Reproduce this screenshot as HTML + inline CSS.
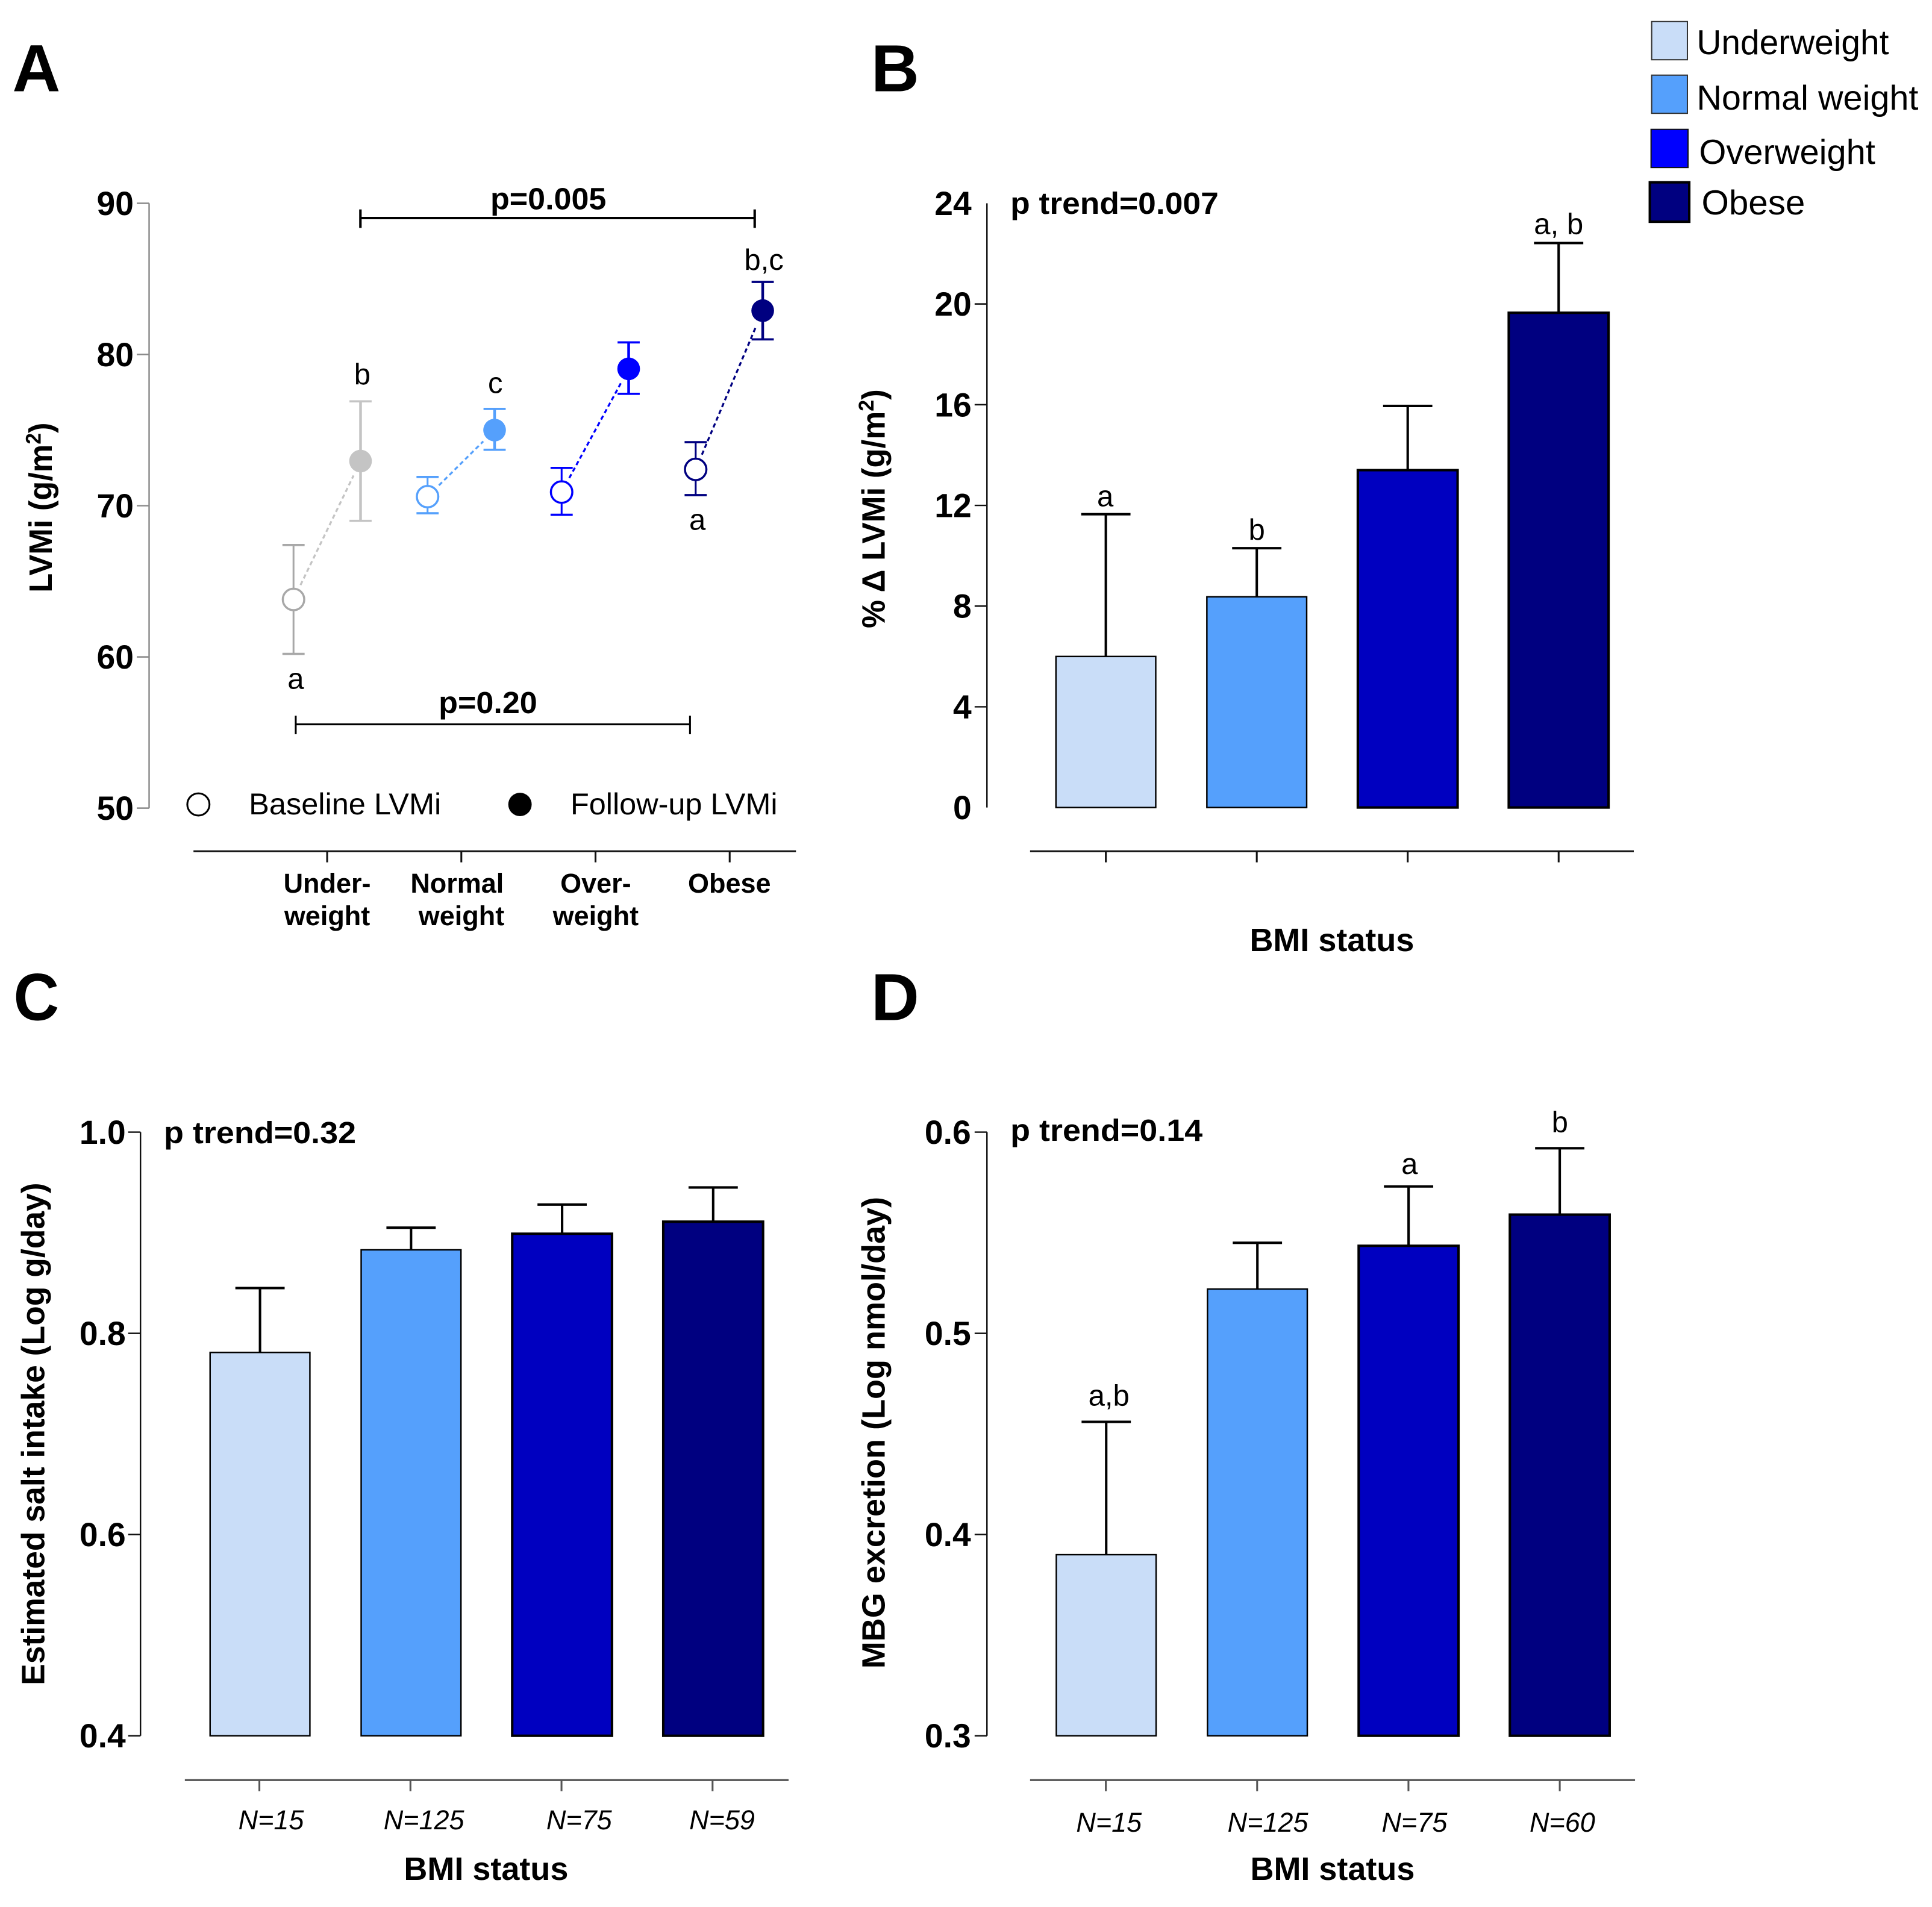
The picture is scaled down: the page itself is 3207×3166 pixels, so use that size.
<!DOCTYPE html>
<html lang="en">
<head>
<meta charset="utf-8">
<title>LVMi by BMI status</title>
<style>
html,body{margin:0;padding:0;background:#fff}
svg{display:block}
text{font-family:"Liberation Sans",sans-serif;fill:#000}
.bold{font-weight:700}
.letter{font-size:54px;font-weight:700}
.tick{font-size:27px;font-weight:700;text-anchor:end}
.ytitle{font-size:26.4px;font-weight:700;text-anchor:middle}
.ptxt{font-size:25px;font-weight:700}
.cat{font-size:22px;font-weight:700;text-anchor:middle}
.sig{font-size:24px;text-anchor:middle}
.n{font-size:22px;font-style:italic;text-anchor:middle}
.leg{font-size:28px}
.leg2{font-size:24.4px}
</style>
</head>
<body>
<svg id="fig" xmlns="http://www.w3.org/2000/svg" width="3207" height="3166" viewBox="0 0 1568 1548">
<rect x="0" y="0" width="1568" height="1548" fill="#fff"/>

<text class="letter" x="10" y="74">A</text>
<text class="letter" x="707" y="74">B</text>
<text class="letter" x="11" y="828" textLength="37" lengthAdjust="spacingAndGlyphs">C</text>
<text class="letter" x="707" y="828">D</text>

<g>
<rect x="1340.5" y="17.5" width="29" height="31" fill="#c9ddf8" stroke="#333" stroke-width="1"/>
<rect x="1340.5" y="61" width="29" height="31" fill="#55a0fc" stroke="#333" stroke-width="1"/>
<rect x="1340" y="105" width="30" height="31" fill="#0000ff" stroke="#111" stroke-width="1"/>
<rect x="1339" y="148" width="32" height="32" fill="#000080" stroke="#000" stroke-width="2"/>
<text class="leg" x="1377" y="44" textLength="156" lengthAdjust="spacingAndGlyphs">Underweight</text>
<text class="leg" x="1377" y="89" textLength="180" lengthAdjust="spacingAndGlyphs">Normal weight</text>
<text class="leg" x="1379" y="133" textLength="143" lengthAdjust="spacingAndGlyphs">Overweight</text>
<text class="leg" x="1381" y="174" textLength="84" lengthAdjust="spacingAndGlyphs">Obese</text>
</g>

<g id="panelA">
<text class="ytitle" transform="translate(42,412) rotate(-90)" textLength="138" lengthAdjust="spacingAndGlyphs">LVMi (g/m<tspan font-size="17" dy="-9">2</tspan><tspan dy="9">)</tspan></text>
<g stroke="#000" stroke-width="2">
<line x1="292" y1="177" x2="613" y2="177"/>
<line x1="292.5" y1="170" x2="292.5" y2="185"/>
<line x1="612.5" y1="170" x2="612.5" y2="185"/>
</g>
<text class="ptxt" x="398" y="170" textLength="94" lengthAdjust="spacingAndGlyphs">p=0.005</text>
<g stroke="#000" stroke-width="1.5">
<line x1="240" y1="588" x2="560" y2="588"/>
<line x1="240" y1="581" x2="240" y2="596"/>
<line x1="560" y1="581" x2="560" y2="596"/>
</g>
<text class="ptxt" x="356" y="579" textLength="80" lengthAdjust="spacingAndGlyphs">p=0.20</text>
<circle cx="161" cy="653" r="9" fill="#fff" stroke="#000" stroke-width="1.5"/>
<text class="leg2" x="202" y="661" textLength="156" lengthAdjust="spacingAndGlyphs">Baseline LVMi</text>
<circle cx="422" cy="653" r="9.5" fill="#000"/>
<text class="leg2" x="463" y="661" textLength="168" lengthAdjust="spacingAndGlyphs">Follow-up LVMi</text>
<text class="cat" x="265.5" y="724.5">Under-</text>
<text class="cat" x="265.5" y="751">weight</text>
<text class="cat" x="371" y="724.5">Normal</text>
<text class="cat" x="374.5" y="751">weight</text>
<text class="cat" x="483.5" y="724.5">Over-</text>
<text class="cat" x="483.5" y="751">weight</text>
<text class="cat" x="592" y="724.5">Obese</text>
<text class="sig" x="240" y="559">a</text>
<text class="sig" x="294" y="312">b</text>
<text class="sig" x="402" y="319">c</text>
<text class="sig" x="620" y="219">b,c</text>
<text class="sig" x="566" y="430">a</text>
</g>

<g id="panelB">
<text class="ytitle" transform="translate(718,413) rotate(-90)" textLength="194" lengthAdjust="spacingAndGlyphs">% Δ LVMi (g/m<tspan font-size="17" dy="-9">2</tspan><tspan dy="9">)</tspan></text>
<text class="ptxt" x="820" y="173.5" textLength="169" lengthAdjust="spacingAndGlyphs">p trend=0.007</text>
<text class="sig" x="897" y="411">a</text>
<text class="sig" x="1020" y="438">b</text>
<text class="sig" x="1265" y="190">a, b</text>
<text class="ytitle" x="1081" y="772">BMI status</text>
</g>

<g id="panelC">
<text class="ytitle" transform="translate(36,1164) rotate(-90)" textLength="408" lengthAdjust="spacingAndGlyphs">Estimated salt intake (Log g/day)</text>
<text class="ptxt" x="133" y="928" textLength="156" lengthAdjust="spacingAndGlyphs">p trend=0.32</text>
<text class="n" x="220" y="1485">N=15</text>
<text class="n" x="344" y="1485">N=125</text>
<text class="n" x="470" y="1485">N=75</text>
<text class="n" x="586" y="1485">N=59</text>
<text class="ytitle" x="394.5" y="1526">BMI status</text>
</g>

<g id="panelD">
<text class="ytitle" transform="translate(718,1163) rotate(-90)" textLength="383" lengthAdjust="spacingAndGlyphs">MBG excretion (Log nmol/day)</text>
<text class="ptxt" x="820" y="926" textLength="156" lengthAdjust="spacingAndGlyphs">p trend=0.14</text>
<text class="sig" x="900" y="1141">a,b</text>
<text class="sig" x="1144" y="953">a</text>
<text class="sig" x="1266" y="919">b</text>
<text class="n" x="900" y="1487">N=15</text>
<text class="n" x="1029" y="1487">N=125</text>
<text class="n" x="1148" y="1487">N=75</text>
<text class="n" x="1268" y="1487">N=60</text>
<text class="ytitle" x="1081.5" y="1526">BMI status</text>
</g>
</svg>

<script>
// Panel A data (LVMi g/m2)
const groupsA = ['underweight', 'normal-weight', 'overweight', 'obese'];
const baselineA = [63.8, 70.6, 70.9, 72.4];
const baselineLowA = [60.2, 69.5, 69.4, 70.7];
const baselineHighA = [67.4, 71.9, 72.5, 74.2];
const followupA = [72.95, 75.0, 79.05, 82.9];
const followupLowA = [69.0, 73.7, 77.4, 81.0];
const followupHighA = [76.9, 76.4, 80.8, 84.8];
const ticksA = ['50', '60', '70', '80', '90'];

// Panel B data (% change in LVMi)
const valuesB = [6.0, 8.37, 13.4, 19.65];
const errorTopsB = [11.65, 10.3, 15.95, 22.42];
const ticksB = ['0', '4', '8', '12', '16', '20', '24'];

// Panel C data (estimated salt intake)
const valuesC = [0.781, 0.883, 0.899, 0.911];
const errorTopsC = [0.845, 0.905, 0.928, 0.945];
const ticksC = ['0.4', '0.6', '0.8', '1.0'];

// Panel D data (MBG excretion)
const valuesD = [0.39, 0.522, 0.5435, 0.559];
const errorTopsD = [0.456, 0.545, 0.573, 0.592];
const ticksD = ['0.3', '0.4', '0.5', '0.6'];

const barFills = ['#c9ddf8', '#55a0fc', '#0000c0', '#000080'];
const barStrokeWidths = [1.2, 1.2, 2, 2];
const markerFills = ['#c4c4c4', '#55a0fc', '#0000ff', '#000080'];
const markerStrokes = ['#a8a8a8', '#55a0fc', '#0000ff', '#000080'];

const NS = 'http://www.w3.org/2000/svg';

function mk(tag, parent, attrs) {
  const el = document.createElementNS(NS, tag);
  for (const k in attrs) el.setAttribute(k, attrs[k]);
  parent.appendChild(el);
  return el;
}

function scale(d0, d1, r0, r1) {
  return function (v) { return r0 + (v - d0) * (r1 - r0) / (d1 - d0); };
}

function drawYAxis(parent, prefix, ticks, y, x, x0Label, color, width, endTicks) {
  const vals = ticks.map(Number);
  const top = y(Math.max.apply(null, vals));
  const bottom = y(Math.min.apply(null, vals));
  const axis = mk('line', parent, { x1: x, x2: x, y1: top, y2: bottom, stroke: color, 'stroke-width': width });
  
  
  ticks.forEach(function (t, i) {
    const ty = y(Number(t));
    const isEnd = i === 0 || i === ticks.length - 1;
    if (endTicks || !isEnd) {
      const tickLine = mk('line', parent, { x1: x - 10, x2: x, y1: ty, y2: ty, stroke: color, 'stroke-width': width });
      
      
    }
    const label = mk('text', parent, { x: x0Label, y: ty + 9.5, class: 'tick' });
    label.textContent = t;
    
    
  });
}

function drawXAxis(parent, prefix, x1, x2, yLine, count, xTick, color) {
  const axis = mk('line', parent, { x1: x1, x2: x2, y1: yLine, y2: yLine, stroke: color, 'stroke-width': 1.5 });
  
  
  for (let i = 0; i < count; i++) {
    const tx = xTick(i);
    const tickLine = mk('line', parent, { x1: tx, x2: tx, y1: yLine, y2: yLine + 9, stroke: color, 'stroke-width': 1.5 });
    
    
  }
}

function drawBars(parent, prefix, values, tops, y, yBase, xCenter) {
  values.forEach(function (v, i) {
    const cx = xCenter(i);
    const yTop = y(v);
    const yErr = y(tops[i]);
    const err = mk('line', parent, { x1: cx, x2: cx, y1: yErr, y2: yTop, stroke: '#000', 'stroke-width': 2 });
    
    
    const cap = mk('line', parent, { x1: cx - 20, x2: cx + 20, y1: yErr, y2: yErr, stroke: '#000', 'stroke-width': 2 });
    
    
    const bar = mk('rect', parent, {
      x: cx - 40.5, y: yTop, width: 81, height: yBase - yTop,
      fill: barFills[i], stroke: '#000', 'stroke-width': barStrokeWidths[i]
    });
    
    
  });
}

/* ---------- Panel A ---------- */
const gA = document.getElementById('panelA');
const yA = scale(50, 90, 656, 165);
const xPointA = function (i, visit) { return 238.2 + 108.8 * i + 54.4 * visit; };
const xTickA = function (i) { return 265.5 + 108.9 * i; };
drawYAxis(gA, 'panel-a', ticksA, yA, 121, 108.5, '#8a8a8a', 1.2, true);
drawXAxis(gA, 'panel-a', 157, 646, 691, 4, xTickA, '#111');

function drawWhisker(parent, name, x, low, high, color, width) {
  const stem = mk('line', parent, { x1: x, x2: x, y1: yA(low), y2: yA(high), stroke: color, 'stroke-width': width });
  
  
  const capLow = mk('line', parent, { x1: x - 9, x2: x + 9, y1: yA(low), y2: yA(low), stroke: color, 'stroke-width': 1.8 });
  
  
  const capHigh = mk('line', parent, { x1: x - 9, x2: x + 9, y1: yA(high), y2: yA(high), stroke: color, 'stroke-width': 1.8 });
  
  
}

groupsA.forEach(function (g, i) {
  const x0 = xPointA(i, 0);
  const x1 = xPointA(i, 1);
  const y0 = yA(baselineA[i]);
  const y1 = yA(followupA[i]);
  const len = Math.hypot(x1 - x0, y1 - y0);
  const ux = (x1 - x0) / len;
  const uy = (y1 - y0) / len;
  const inset = 13;
  const stroke = markerStrokes[i];
  const conn = mk('line', gA, {
    x1: x0 + ux * inset, y1: y0 + uy * inset, x2: x1 - ux * inset, y2: y1 - uy * inset,
    stroke: i === 0 ? '#c4c4c4' : markerFills[i], 'stroke-width': 1.6, 'stroke-dasharray': '3.5 2.5'
  });
  
  
  drawWhisker(gA, 'baseline-' + g, x0, baselineLowA[i], baselineHighA[i], stroke, 1.5);
  drawWhisker(gA, 'followup-' + g, x1, followupLowA[i], followupHighA[i], i === 0 ? '#c4c4c4' : stroke, 2.2);
  const open = mk('circle', gA, { cx: x0, cy: y0, r: 8.7, fill: '#fff', stroke: stroke, 'stroke-width': 1.7 });
  
  
  const filled = mk('circle', gA, { cx: x1, cy: y1, r: 9.2, fill: markerFills[i] });
  
  
});

/* ---------- Panel B ---------- */
const gB = document.getElementById('panelB');
const yB = scale(0, 24, 655.5, 165);
const xBarB = function (i) { return 897.5 + 122.5 * i; };
drawYAxis(gB, 'panel-b', ticksB, yB, 801, 788.5, '#111', 1.2, false);
drawXAxis(gB, 'panel-b', 836, 1326, 691, 4, xBarB, '#111');
drawBars(gB, 'panel-b', valuesB, errorTopsB, yB, yB(0), xBarB);

/* ---------- Panel C ---------- */
const gC = document.getElementById('panelC');
const yC = scale(0.4, 1.0, 1409, 919);
const xBarC = function (i) { return 211 + 122.6 * i; };
const xTickC = function (i) { return 210.5 + 122.6 * i; };
drawYAxis(gC, 'panel-c', ticksC, yC, 114, 102, '#111', 1.2, true);
drawXAxis(gC, 'panel-c', 150, 640, 1445, 4, xTickC, '#555');
drawBars(gC, 'panel-c', valuesC, errorTopsC, yC, yC(0.4), xBarC);

/* ---------- Panel D ---------- */
const gD = document.getElementById('panelD');
const yD = scale(0.3, 0.6, 1409, 919);
const xBarD = function (i) { return 897.8 + 122.7 * i; };
const xTickD = function (i) { return 897.5 + 122.8 * i; };
drawYAxis(gD, 'panel-d', ticksD, yD, 801, 788, '#111', 1.2, true);
drawXAxis(gD, 'panel-d', 836, 1327, 1445, 4, xTickD, '#555');
drawBars(gD, 'panel-d', valuesD, errorTopsD, yD, yD(0.3), xBarD);
</script>
</body>
</html>
